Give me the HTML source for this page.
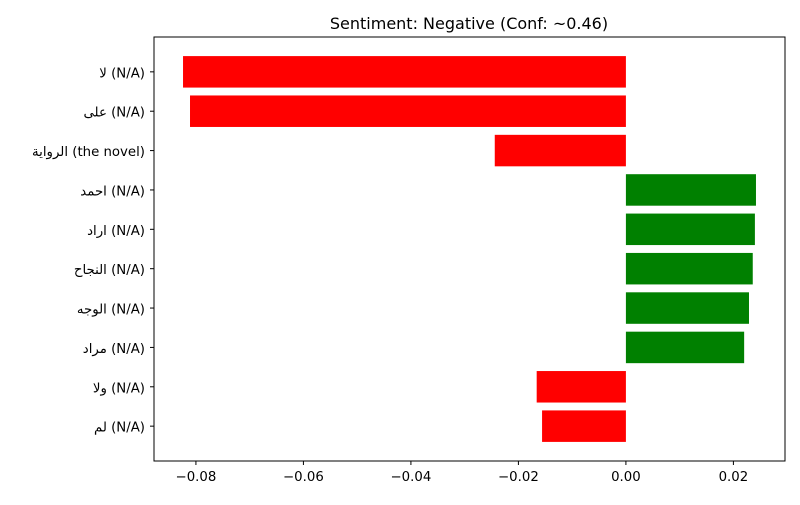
<!DOCTYPE html>
<html><head><meta charset="utf-8"><style>
body{margin:0;background:#fff;}
svg text{font-family:"DejaVu Sans","Liberation Sans","Noto Sans CJK SC",sans-serif;}
</style></head><body>
<svg id="chart" width="800" height="500" xmlns="http://www.w3.org/2000/svg">
<rect width="800" height="500" fill="#fff"/>
<text x="469" y="29" font-size="16" text-anchor="middle">Sentiment: Negative (Conf: ~0.46)</text>
<g id="bars"></g>
<rect x="154" y="37" width="631" height="424" fill="none" stroke="#000" stroke-width="1"/>
<g id="xticks"></g>
<g id="yticks"></g>
</svg>
<script>
const categories = ["لا (N/A)","على (N/A)","الرواية (the novel)","احمد (N/A)","اراد (N/A)","النجاح (N/A)","الوجه (N/A)","مراد (N/A)","ولا (N/A)","لم (N/A)"];
const values = [-0.0824,-0.0811,-0.0244,0.0242,0.0240,0.0236,0.0229,0.0220,-0.0166,-0.0156];
const xTickValues = [-0.08,-0.06,-0.04,-0.02,0.00,0.02];
const xTickLabels = ["−0.08","−0.06","−0.04","−0.02","0.00","0.02"];
const NS="http://www.w3.org/2000/svg";
const x0=154,x1=785,dMin=-0.0878,dMax=0.0296;
function xScale(v){return x0+(v-dMin)/(dMax-dMin)*(x1-x0);}
const yTop=37,yBot=461;
function yScale(i){const n=categories.length;const step=(yBot-yTop)/(n-1+2*0.885);return yTop+step*(0.885+i);}
const step=(yBot-yTop)/(categories.length-1+2*0.885);
const bars=document.getElementById('bars'),xt=document.getElementById('xticks'),yt=document.getElementById('yticks');
values.forEach((v,i)=>{
 const r=document.createElementNS(NS,'rect');
 const a=xScale(0),b=xScale(v);
 r.setAttribute('x',Math.min(a,b));r.setAttribute('width',Math.abs(a-b));
 r.setAttribute('y',yScale(i)-step*0.4);r.setAttribute('height',step*0.8);
 r.setAttribute('fill',v<0?'#ff0000':'#008000');
 
 
 bars.appendChild(r);
 const l=document.createElementNS(NS,'line');
 l.setAttribute('x1',154);l.setAttribute('x2',150);l.setAttribute('y1',yScale(i));l.setAttribute('y2',yScale(i));l.setAttribute('stroke','#000');
 
 
 yt.appendChild(l);
 const t=document.createElementNS(NS,'text');
 t.setAttribute('x',145);t.setAttribute('y',yScale(i)+5.5);t.setAttribute('font-size','13.3');t.setAttribute('text-anchor','end');
 t.setAttribute('direction','ltr');
 t.textContent=categories[i];
 
 
 yt.appendChild(t);
});
xTickValues.forEach((v,i)=>{
 const x=xScale(v);
 const l=document.createElementNS(NS,'line');
 l.setAttribute('x1',x);l.setAttribute('x2',x);l.setAttribute('y1',461);l.setAttribute('y2',465);l.setAttribute('stroke','#000');
 
 
 xt.appendChild(l);
 const t=document.createElementNS(NS,'text');
 t.setAttribute('x',x);t.setAttribute('y',481);t.setAttribute('font-size','13.3');t.setAttribute('text-anchor','middle');
 t.textContent=xTickLabels[i];
 
 
 xt.appendChild(t);
});
</script>
</body></html>
